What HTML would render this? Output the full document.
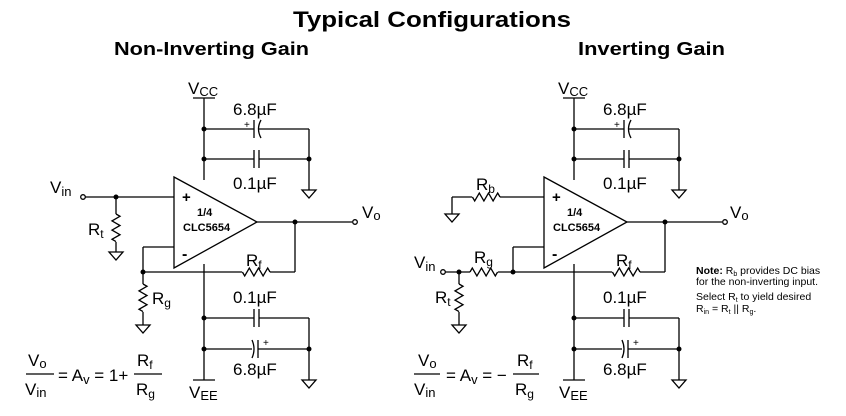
<!DOCTYPE html>
<html><head><style>
html,body{margin:0;padding:0;background:#fff;}
svg{display:block;font-family:"Liberation Sans",Arial,sans-serif;}
</style></head><body>
<svg width="846" height="416" viewBox="0 0 846 416" xmlns="http://www.w3.org/2000/svg">
<defs>
<g id="pwr" stroke="#000" stroke-width="1.3" fill="none">
  <line x1="193" y1="98" x2="215" y2="98"/>
  <line x1="204" y1="98" x2="204" y2="180"/>
  <line x1="204" y1="264" x2="204" y2="380"/>
  <line x1="193" y1="380" x2="215" y2="380"/>
  <line x1="204" y1="129" x2="254" y2="129"/>
  <line x1="258" y1="129" x2="309" y2="129"/>
  <line x1="254" y1="120" x2="254" y2="138"/>
  <path d="M261 120 Q256 129 261 138"/>
  <line x1="204" y1="159" x2="254" y2="159"/>
  <line x1="259" y1="159" x2="309" y2="159"/>
  <line x1="254" y1="150" x2="254" y2="168"/>
  <line x1="259" y1="150" x2="259" y2="168"/>
  <line x1="309" y1="129" x2="309" y2="190"/>
  <path d="M302 190 L316 190 L309 198 Z"/>
  <line x1="204" y1="318" x2="254" y2="318"/>
  <line x1="259" y1="318" x2="309" y2="318"/>
  <line x1="254" y1="309" x2="254" y2="327"/>
  <line x1="259" y1="309" x2="259" y2="327"/>
  <line x1="204" y1="349" x2="252" y2="349"/>
  <line x1="258" y1="349" x2="309" y2="349"/>
  <path d="M252 340 Q256 349 252 358"/>
  <line x1="258" y1="340" x2="258" y2="358"/>
  <line x1="309" y1="318" x2="309" y2="380"/>
  <path d="M302 380 L316 380 L309 388 Z"/>
  <path d="M174 177 L257 222 L174 268 Z" fill="#fff"/>
  <line x1="257" y1="222" x2="352" y2="222"/>
  <line x1="295" y1="222" x2="295" y2="272"/>
  <line x1="295" y1="272" x2="270" y2="272"/>
  <path d="M270 272 l-2.3 -4 l-4.6 8 l-4.6 -8 l-4.6 8 l-4.6 -8 l-4.6 8 l-2.3 -4"/>
  <circle cx="355" cy="222" r="2.3" fill="#fff"/>
</g>
<g id="dots" fill="#000">
  <circle cx="204" cy="129" r="2.5"/><circle cx="204" cy="159" r="2.5"/>
  <circle cx="309" cy="159" r="2.5"/>
  <circle cx="204" cy="318" r="2.5"/><circle cx="204" cy="349" r="2.5"/>
  <circle cx="309" cy="349" r="2.5"/>
  <circle cx="295" cy="222" r="2.5"/>
</g>
<g id="lbl" fill="#000">
  <text x="188" y="94" font-size="17">V<tspan font-size="13" dy="2">CC</tspan></text>
  <text x="233" y="115" font-size="17">6.8µF</text>
  <text x="244" y="128" font-size="10">+</text>
  <text x="233" y="189" font-size="17">0.1µF</text>
  <text x="233" y="303" font-size="17">0.1µF</text>
  <text x="233" y="375" font-size="17">6.8µF</text>
  <text x="263" y="346" font-size="10">+</text>
  <text x="189" y="398" font-size="17">V<tspan font-size="13" dy="2">EE</tspan></text>
  <text x="182" y="202" font-size="15" font-weight="bold">+</text>
  <text x="182" y="259" font-size="16" font-weight="bold">-</text>
  <text x="197" y="216" font-size="11" font-weight="bold">1/4</text>
  <text x="183" y="231" font-size="11" font-weight="bold">CLC5654</text>
  <text x="246" y="266" font-size="17">R<tspan font-size="12" dy="3">f</tspan></text>
</g>
</defs>

<text x="293" y="27" font-size="22" font-weight="bold" textLength="278" lengthAdjust="spacingAndGlyphs">Typical Configurations</text>
<text x="114" y="55" font-size="18" font-weight="bold" textLength="195" lengthAdjust="spacingAndGlyphs">Non-Inverting Gain</text>
<text x="578" y="55" font-size="18" font-weight="bold" textLength="147" lengthAdjust="spacingAndGlyphs">Inverting Gain</text>

<use href="#pwr"/><use href="#dots"/><use href="#lbl"/>
<g stroke="#000" stroke-width="1.3" fill="none">
  <circle cx="83" cy="197" r="2.3"/>
  <line x1="85" y1="197" x2="174" y2="197"/>
  <line x1="116" y1="197" x2="116" y2="214"/>
  <path d="M116 214 l4 2.3 l-8 4.6 l8 4.6 l-8 4.6 l8 4.6 l-8 4.6 l4 2.3"/>
  <line x1="116" y1="242" x2="116" y2="252"/>
  <path d="M109 252 L123 252 L116 260 Z"/>
  <line x1="174" y1="247" x2="143" y2="247"/>
  <line x1="143" y1="247" x2="143" y2="284"/>
  <line x1="143" y1="272" x2="242" y2="272"/>
  <path d="M143 284 l4 2.3 l-8 4.6 l8 4.6 l-8 4.6 l8 4.6 l-8 4.6 l4 2.3"/>
  <line x1="143" y1="312" x2="143" y2="325"/>
  <path d="M136 325 L150 325 L143 333 Z"/>
</g>
<g fill="#000">
  <circle cx="116" cy="197" r="2.5"/><circle cx="143" cy="272" r="2.5"/>
  <text x="50" y="193" font-size="17">V<tspan font-size="13" dy="3">in</tspan></text>
  <text x="88" y="235" font-size="17">R<tspan font-size="12" dy="3">t</tspan></text>
  <text x="152" y="304" font-size="17">R<tspan font-size="12" dy="3">g</tspan></text>
  <text x="362" y="218" font-size="17">V<tspan font-size="13" dy="2">o</tspan></text>
  <text x="28" y="366" font-size="17">V<tspan font-size="13" dy="2">o</tspan></text>
  <line x1="26" y1="374" x2="54" y2="374" stroke="#000" stroke-width="1.2"/>
  <text x="25" y="395" font-size="17">V<tspan font-size="13" dy="2">in</tspan></text>
  <text x="58" y="381" font-size="17">= A<tspan font-size="13" dy="3">v</tspan><tspan dy="-3"> = 1+</tspan></text>
  <text x="137" y="366" font-size="17">R<tspan font-size="12" dy="3">f</tspan></text>
  <line x1="134" y1="374" x2="162" y2="374" stroke="#000" stroke-width="1.2"/>
  <text x="136" y="395" font-size="17">R<tspan font-size="12" dy="3">g</tspan></text>
</g>

<g transform="translate(370,0)"><use href="#pwr"/><use href="#dots"/><use href="#lbl"/></g>
<g stroke="#000" stroke-width="1.3" fill="none">
  <line x1="544" y1="197" x2="500" y2="197"/>
  <path d="M500 197 l-2.3 -4 l-4.6 8 l-4.6 -8 l-4.6 8 l-4.6 -8 l-4.6 8 l-2.3 -4"/>
  <line x1="472" y1="197" x2="452" y2="197"/>
  <line x1="452" y1="197" x2="452" y2="214"/>
  <path d="M445 214 L459 214 L452 222 Z"/>
  <line x1="544" y1="247" x2="513" y2="247"/>
  <line x1="513" y1="247" x2="513" y2="272"/>
  <circle cx="443" cy="272" r="2.3"/>
  <line x1="445" y1="272" x2="470" y2="272"/>
  <path d="M470 272 l2.3 -4 l4.6 8 l4.6 -8 l4.6 8 l4.6 -8 l4.6 8 l2.3 -4"/>
  <line x1="498" y1="272" x2="612" y2="272"/>
  <line x1="459" y1="272" x2="459" y2="284"/>
  <path d="M459 284 l4 2.3 l-8 4.6 l8 4.6 l-8 4.6 l8 4.6 l-8 4.6 l4 2.3"/>
  <line x1="459" y1="312" x2="459" y2="325"/>
  <path d="M452 325 L466 325 L459 333 Z"/>
</g>
<g fill="#000">
  <circle cx="459" cy="272" r="2.5"/><circle cx="513" cy="272" r="2.5"/>
  <text x="476" y="190" font-size="17">R<tspan font-size="12" dy="3">b</tspan></text>
  <text x="474" y="263" font-size="17">R<tspan font-size="12" dy="3">g</tspan></text>
  <text x="414" y="268" font-size="17">V<tspan font-size="13" dy="3">in</tspan></text>
  <text x="435" y="303" font-size="17">R<tspan font-size="12" dy="3">t</tspan></text>
  <text x="730" y="218" font-size="17">V<tspan font-size="13" dy="2">o</tspan></text>
  <text x="696" y="274" font-size="10.5"><tspan font-weight="bold">Note:</tspan> R<tspan font-size="7" dy="2">b</tspan><tspan dy="-2"> provides DC bias</tspan></text>
  <text x="696" y="285" font-size="10.5">for the non-inverting input.</text>
  <text x="696" y="300" font-size="10.5">Select R<tspan font-size="7" dy="2">t</tspan><tspan dy="-2"> to yield desired</tspan></text>
  <text x="696" y="312" font-size="10.5">R<tspan font-size="7" dy="2">in</tspan><tspan dy="-2"> = R</tspan><tspan font-size="7" dy="2">t</tspan><tspan dy="-2"> || R</tspan><tspan font-size="7" dy="2">g</tspan><tspan dy="-2">.</tspan></text>
  <text x="418" y="366" font-size="17">V<tspan font-size="13" dy="2">o</tspan></text>
  <line x1="414" y1="374" x2="440" y2="374" stroke="#000" stroke-width="1.2"/>
  <text x="414" y="395" font-size="17">V<tspan font-size="13" dy="2">in</tspan></text>
  <text x="446" y="381" font-size="17">= A<tspan font-size="13" dy="3">v</tspan><tspan dy="-3"> = −</tspan></text>
  <text x="517" y="366" font-size="17">R<tspan font-size="12" dy="3">f</tspan></text>
  <line x1="513" y1="374" x2="539" y2="374" stroke="#000" stroke-width="1.2"/>
  <text x="515" y="395" font-size="17">R<tspan font-size="12" dy="3">g</tspan></text>
</g>
</svg>
</body></html>
